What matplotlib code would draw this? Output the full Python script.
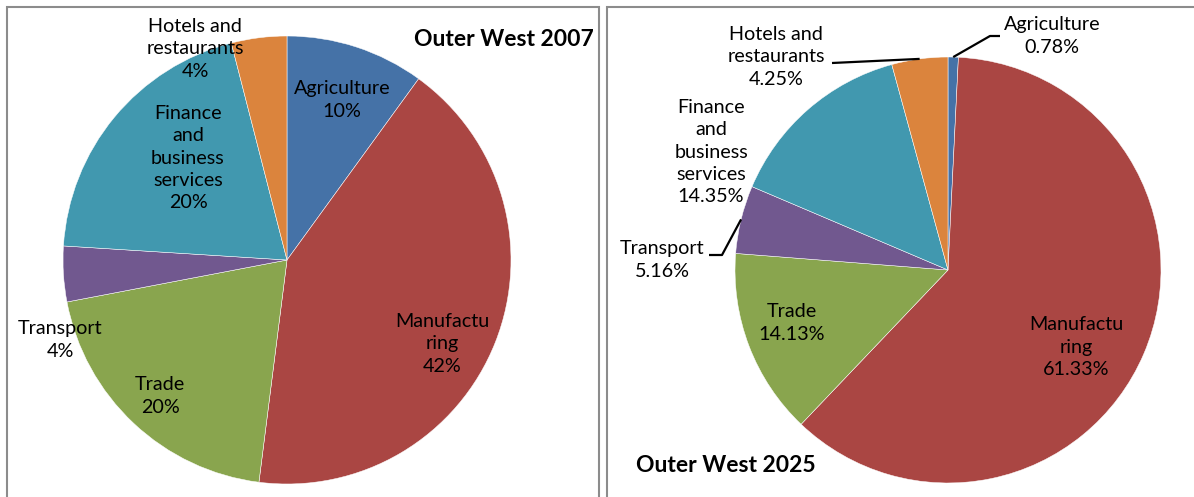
import numpy as np
import matplotlib.pyplot as plt
from matplotlib.patches import Rectangle

# sector shares of employment, Outer West
sectors = ['Agriculture', 'Manufactu\nring', 'Trade', 'Transport',
           'Finance\nand\nbusiness\nservices', 'Hotels and\nrestaurants']
share_2007 = [10, 42, 20, 4, 20, 4]
share_2025 = [0.78, 61.33, 14.13, 5.16, 14.35, 4.25]
colors = ['#4572A7', '#AA4643', '#89A54E', '#71588F', '#4198AF', '#DB843D']

W, H = 1194, 497
plt.rcParams['font.family'] = ['Lato', 'DejaVu Sans']

fig = plt.figure(figsize=(W / 100, H / 100), dpi=100)
ax = fig.add_axes([0, 0, 1, 1])


def draw_pie(values, cx, cy, r):
    ax.pie(values, colors=colors, startangle=90, counterclock=False,
           center=(cx, H - cy), radius=r, frame=True,
           wedgeprops=dict(edgecolor='white', linewidth=0.35))


def edge_point(values, i, cx, cy, r):
    # point on the rim at the middle of slice i (clockwise from 12 o'clock)
    cum = np.cumsum([0] + list(values)) / np.sum(values)
    a = 2 * np.pi * (cum[i] + cum[i + 1]) / 2
    return cx + r * np.sin(a), cy - r * np.cos(a)


def label(x, y, s, **kw):
    ax.text(x, H - y, s, ha='center', va='center', fontsize=14.2,
            linespacing=1.37, color='black', **kw)


def leader(pts):
    xs = [p[0] for p in pts]
    ys = [H - p[1] for p in pts]
    ax.plot(xs, ys, color='black', lw=1.6, solid_capstyle='butt')


# panel frames
for x0, x1 in [(7, 599), (607, 1200)]:
    ax.add_patch(Rectangle((x0, -20), x1 - x0, H - 7 + 20, fill=False,
                           edgecolor='#8c8c8c', lw=1.5))

# 2007
c1 = (287, 260, 224)
draw_pie(share_2007, *c1)
pct07 = ['%d%%' % v for v in share_2007]
pos07 = [(342, 100), (442, 344), (160, 396), (60, 340), (188, 158), (195, 49)]
for name, p, (x, y) in zip(sectors, pct07, pos07):
    label(x, y, name + '\n' + p)
ax.text(594, H - 40, 'Outer West 2007', ha='right', va='center',
        fontsize=16.5, fontweight='bold')

# 2025
c2 = (948, 270, 213)
draw_pie(share_2025, *c2)
pct25 = ['%.2f%%' % v for v in share_2025]
pos25 = [(1052, 36), (1076, 347), (792, 323), (662, 260), (711, 152), (776, 57)]
for name, p, (x, y) in zip(sectors, pct25, pos25):
    label(x, y, name + '\n' + p)
ax.text(636, H - 465, 'Outer West 2025', ha='left', va='center',
        fontsize=16.5, fontweight='bold')

# leader lines for the small slices
ag = edge_point(share_2025, 0, *c2)
leader([ag, (990, 36), (1000, 36)])
ho = edge_point(share_2025, 5, *c2)
leader([ho, (832, 63)])
tr = edge_point(share_2025, 3, *c2)
leader([tr, (722, 255), (709, 255)])

ax.set_xlim(0, W)
ax.set_ylim(0, H)
ax.set_aspect('equal')
ax.axis('off')
fig.savefig('out.png', dpi=100)
